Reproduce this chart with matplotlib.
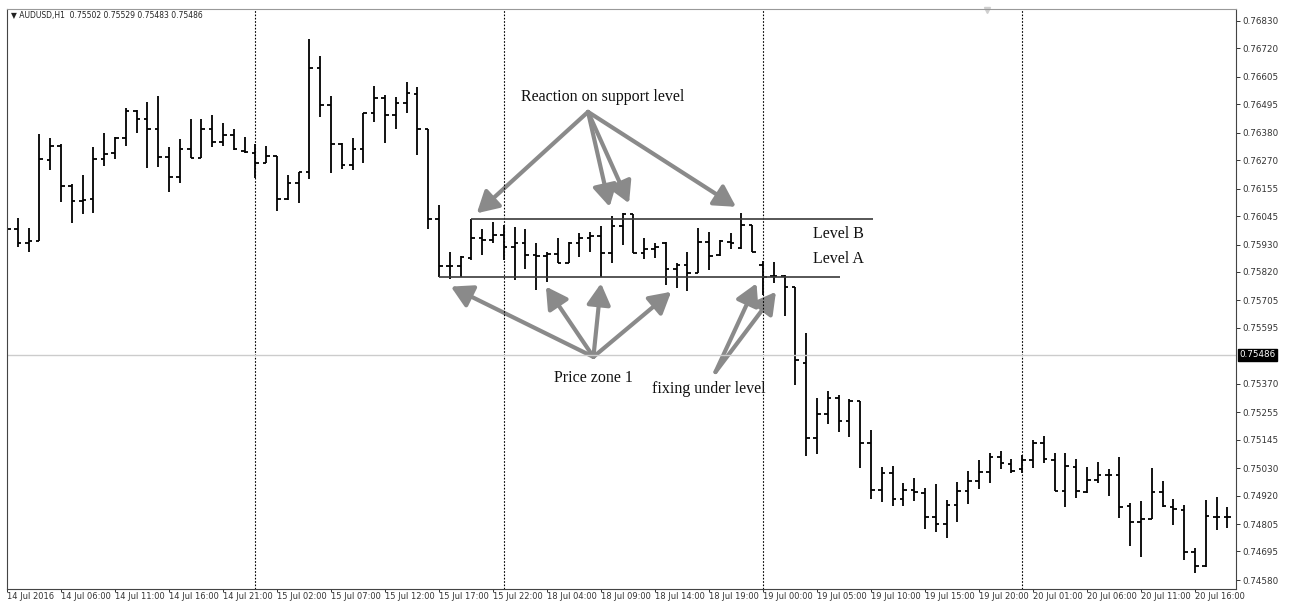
import numpy as np
import matplotlib.pyplot as plt
from matplotlib.patches import FancyArrowPatch
from matplotlib.transforms import blended_transform_factory

# AUDUSD H1 bars, 14 Jul 01:00 .. 20 Jul 19:00
opens = [0.76049, 0.75993, 0.75936, 0.75945, 0.76271, 0.76327, 0.76166, 0.76106, 0.76114, 0.76275,
         0.76299, 0.76359, 0.76468, 0.76436, 0.76395, 0.76283, 0.76202, 0.76315, 0.76279, 0.76395,
         0.76343, 0.76371, 0.76307, 0.76299, 0.76258, 0.76287, 0.76114, 0.76178, 0.76222, 0.76641,
         0.76492, 0.76335, 0.76250, 0.76315, 0.76460, 0.76520, 0.76452, 0.76500, 0.76536, 0.76395,
         0.76033, 0.75844, 0.75844, 0.75876, 0.75957, 0.75949, 0.75969, 0.75920, 0.75936, 0.75888,
         0.75884, 0.75892, 0.75856, 0.75936, 0.75957, 0.75965, 0.75896, 0.76005, 0.76053, 0.75896,
         0.75912, 0.75936, 0.75832, 0.75848, 0.75816, 0.75940, 0.75888, 0.75940, 0.75916, 0.76009,
         0.75848, 0.75804, 0.75804, 0.75759, 0.75453, 0.75152, 0.75248, 0.75313, 0.75220, 0.75300,
         0.75131, 0.74942, 0.75011, 0.74906, 0.74942, 0.74930, 0.74834, 0.74805, 0.74882, 0.74938,
         0.74978, 0.75015, 0.75075, 0.75047, 0.75027, 0.75063, 0.75131, 0.75063, 0.74938, 0.75035,
         0.74934, 0.74983, 0.75003, 0.75003, 0.74878, 0.74813, 0.74826, 0.74934, 0.74874, 0.74862,
         0.74693, 0.74636, 0.74834, 0.74834]
highs = [0.76069, 0.76037, 0.75997, 0.76375, 0.76359, 0.76335, 0.76174, 0.76210, 0.76323, 0.76379,
         0.76363, 0.76480, 0.76472, 0.76504, 0.76528, 0.76323, 0.76355, 0.76436, 0.76436, 0.76452,
         0.76419, 0.76395, 0.76363, 0.76335, 0.76327, 0.76287, 0.76210, 0.76222, 0.76758, 0.76689,
         0.76528, 0.76339, 0.76359, 0.76460, 0.76568, 0.76532, 0.76524, 0.76584, 0.76564, 0.76395,
         0.76089, 0.75900, 0.75884, 0.76033, 0.75993, 0.76021, 0.76009, 0.76001, 0.75993, 0.75936,
         0.75900, 0.75957, 0.75940, 0.75977, 0.75981, 0.76005, 0.76045, 0.76057, 0.76053, 0.75957,
         0.75936, 0.75940, 0.75856, 0.75900, 0.75997, 0.75981, 0.75949, 0.75977, 0.76057, 0.76009,
         0.75864, 0.75860, 0.75808, 0.75759, 0.75574, 0.75313, 0.75341, 0.75325, 0.75309, 0.75300,
         0.75184, 0.75035, 0.75039, 0.74970, 0.74991, 0.74950, 0.74966, 0.74902, 0.74974, 0.75019,
         0.75063, 0.75091, 0.75099, 0.75067, 0.75083, 0.75143, 0.75160, 0.75091, 0.75091, 0.75067,
         0.75035, 0.75055, 0.75027, 0.75075, 0.74890, 0.74898, 0.75031, 0.74978, 0.74906, 0.74882,
         0.74709, 0.74902, 0.74914, 0.74874]
lows = [0.75989, 0.75920, 0.75900, 0.75945, 0.76230, 0.76101, 0.76017, 0.76053, 0.76057, 0.76246,
        0.76275, 0.76327, 0.76379, 0.76238, 0.76242, 0.76142, 0.76178, 0.76279, 0.76279, 0.76323,
        0.76327, 0.76311, 0.76299, 0.76198, 0.76258, 0.76065, 0.76110, 0.76097, 0.76194, 0.76444,
        0.76218, 0.76234, 0.76230, 0.76258, 0.76423, 0.76339, 0.76395, 0.76460, 0.76291, 0.75993,
        0.75800, 0.75792, 0.75800, 0.75868, 0.75888, 0.75936, 0.75868, 0.75788, 0.75832, 0.75747,
        0.75779, 0.75856, 0.75856, 0.75880, 0.75900, 0.75800, 0.75856, 0.75928, 0.75896, 0.75872,
        0.75876, 0.75767, 0.75755, 0.75743, 0.75816, 0.75828, 0.75884, 0.75912, 0.75912, 0.75900,
        0.75727, 0.75775, 0.75643, 0.75365, 0.75079, 0.75087, 0.75208, 0.75176, 0.75156, 0.75031,
        0.74906, 0.74894, 0.74878, 0.74878, 0.74898, 0.74785, 0.74773, 0.74749, 0.74813, 0.74886,
        0.74946, 0.74970, 0.75027, 0.75011, 0.75011, 0.75031, 0.75051, 0.74938, 0.74874, 0.74910,
        0.74930, 0.74970, 0.74918, 0.74830, 0.74717, 0.74673, 0.74826, 0.74874, 0.74801, 0.74661,
        0.74608, 0.74632, 0.74781, 0.74789]
closes = [0.75993, 0.75936, 0.75945, 0.76275, 0.76327, 0.76166, 0.76106, 0.76110, 0.76275, 0.76295,
          0.76359, 0.76468, 0.76436, 0.76395, 0.76283, 0.76202, 0.76315, 0.76279, 0.76395, 0.76343,
          0.76371, 0.76315, 0.76303, 0.76258, 0.76287, 0.76114, 0.76178, 0.76222, 0.76641, 0.76492,
          0.76335, 0.76250, 0.76315, 0.76460, 0.76520, 0.76452, 0.76500, 0.76540, 0.76395, 0.76033,
          0.75844, 0.75844, 0.75880, 0.75957, 0.75949, 0.75969, 0.75920, 0.75936, 0.75888, 0.75884,
          0.75892, 0.75856, 0.75936, 0.75957, 0.75965, 0.75896, 0.76005, 0.76053, 0.75896, 0.75912,
          0.75920, 0.75832, 0.75848, 0.75816, 0.75940, 0.75884, 0.75945, 0.75936, 0.76009, 0.75900,
          0.75800, 0.75804, 0.75759, 0.75466, 0.75152, 0.75248, 0.75313, 0.75220, 0.75300, 0.75131,
          0.74942, 0.75011, 0.74906, 0.74942, 0.74934, 0.74834, 0.74805, 0.74882, 0.74938, 0.74978,
          0.75015, 0.75075, 0.75051, 0.75019, 0.75063, 0.75131, 0.75067, 0.74938, 0.75039, 0.74938,
          0.74983, 0.75003, 0.75003, 0.74874, 0.74813, 0.74826, 0.74934, 0.74878, 0.74866, 0.74693,
          0.74636, 0.74838, 0.74834, 0.74834]

x_labels = ["14 Jul 2016", "14 Jul 06:00", "14 Jul 11:00", "14 Jul 16:00", "14 Jul 21:00",
            "15 Jul 02:00", "15 Jul 07:00", "15 Jul 12:00", "15 Jul 17:00", "15 Jul 22:00",
            "18 Jul 04:00", "18 Jul 09:00", "18 Jul 14:00", "18 Jul 19:00", "19 Jul 00:00",
            "19 Jul 05:00", "19 Jul 10:00", "19 Jul 15:00", "19 Jul 20:00", "20 Jul 01:00",
            "20 Jul 06:00", "20 Jul 11:00", "20 Jul 16:00"]
y_ticks = [0.76830, 0.76720, 0.76605, 0.76495, 0.76380, 0.76270, 0.76155, 0.76045, 0.75930,
           0.75820, 0.75705, 0.75595, 0.75370, 0.75255, 0.75145, 0.75030, 0.74920, 0.74805,
           0.74695, 0.74580]
day_breaks = [23, 46, 70, 94]
last_price = 0.75486
header = "AUDUSD,H1  0.75502 0.75529 0.75483 0.75486"

level_b = 0.76033
level_a = 0.75801

# arrows: (from, to) in (bar index, price)
reaction_arrows = [((53.8, 0.76464), (43.5, 0.76056)), ((53.8, 0.76464), (55.8, 0.76082)),
                   ((53.8, 0.76464), (57.6, 0.76096)), ((53.8, 0.76464), (67.5, 0.76082))]
zone_arrows = [((54.3, 0.75478), (41.1, 0.75761)), ((54.3, 0.75478), (49.9, 0.75761)),
               ((54.3, 0.75478), (55.0, 0.75774)), ((54.3, 0.75478), (61.5, 0.75740))]
fixing_arrows = [((65.6, 0.75417), (69.4, 0.75774)), ((65.6, 0.75417), (71.2, 0.75740))]


fig = plt.figure(figsize=(12.89, 6.01), dpi=100)
ax = fig.add_axes([7 / 1289, 1 - 589 / 601, 1229 / 1289, 580 / 601])

x = np.arange(len(opens))
ax.vlines(x, lows, highs, color="black", lw=1.3)
ax.hlines(opens, x - 0.33, x, color="black", lw=1.3)
ax.hlines(closes, x, x + 0.33, color="black", lw=1.3)

for d in day_breaks:
    ax.axvline(d, color="black", lw=0.8, ls=(0, (1.5, 1.5)))
ax.axhline(last_price, color="#cccccc", lw=1)

ax.hlines(level_b, 43, 80.2, color="#3a3a3a", lw=1.2)
ax.hlines(level_a, 40, 77.1, color="#3a3a3a", lw=1.2)

for start, end in reaction_arrows + zone_arrows + fixing_arrows:
    ax.add_patch(FancyArrowPatch(start, end, arrowstyle="-|>,head_length=0.8,head_width=0.45",
                                 mutation_scale=16, lw=3.0, color="#8a8a8a",
                                 shrinkA=0, shrinkB=0))

serif = dict(family="Liberation Serif", fontsize=11.5, color="#111111")
ax.text(55.2, 0.76524, "Reaction on support level", ha="center", va="center", **serif)
ax.text(74.6, 0.75972, "Level B", ha="left", va="center", **serif)
ax.text(74.6, 0.75872, "Level A", ha="left", va="center", **serif)
ax.text(54.3, 0.75393, "Price zone 1", ha="center", va="center", **serif)
ax.text(65.0, 0.75349, "fixing under level", ha="center", va="center", **serif)

ax.text(0.003, 0.988, "\u25bc " + header, transform=ax.transAxes, ha="left", va="center",
        fontsize=5.5, color="#222222")

ax.set_xlim(0, 113.8)
ax.set_ylim(0.74544, 0.76878)

ax.yaxis.tick_right()
ax.set_yticks(y_ticks)
ax.set_yticklabels([f"{v:.5f}" for v in y_ticks])
ax.set_xticks(range(0, 5 * len(x_labels), 5))
ax.set_xticklabels(x_labels)
for lbl in ax.get_xticklabels():
    lbl.set_ha("left")
ax.tick_params(axis="y", direction="out", length=3, width=0.7, labelsize=6.3,
               colors="#333333", pad=1.5)
ax.tick_params(axis="x", direction="out", length=2, width=0.7, labelsize=6,
               colors="#333333", pad=0.5)

trans = blended_transform_factory(ax.transAxes, ax.transData)
ax.text(1.003, last_price, "0.75486", transform=trans, ha="left", va="center",
        fontsize=6.3, color="white",
        bbox=dict(facecolor="black", edgecolor="black", pad=1.2))
ax.plot([0.797], [0.998], marker="v", color="#cfcfcf", ms=5, transform=ax.transAxes,
        clip_on=False)

for side in ["left", "right", "bottom"]:
    ax.spines[side].set_color("#444444")
ax.spines["top"].set_color("#999999")

fig.savefig("out.png", dpi=100)
